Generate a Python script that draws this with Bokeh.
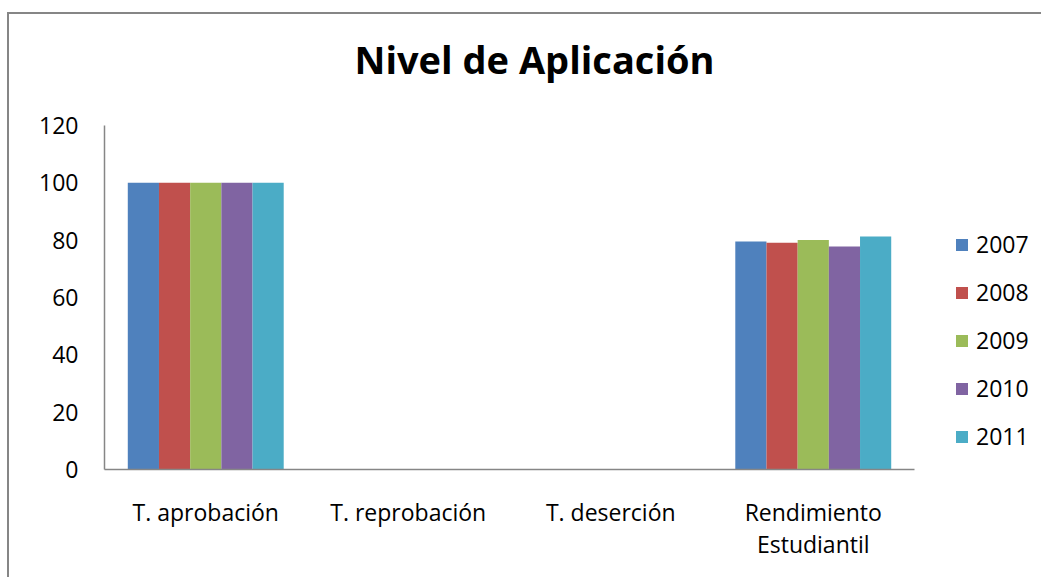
from bokeh.plotting import figure
from bokeh.models import (Range1d, FixedTicker, Legend, LegendItem,
                          ColumnDataSource, LinearAxis, Title)
from bokeh.embed import file_html
from bokeh.resources import INLINE

categories = ["T. aprobación", "T. reprobación", "T. deserción", "Rendimiento Estudiantil"]
label_line1 = ["T. aprobación", "T. reprobación", "T. deserción", "Rendimiento"]
label_line2 = ["", "", "", "Estudiantil"]
years = ["2007", "2008", "2009", "2010", "2011"]
v2007 = [100, 0, 0, 79.5]
v2008 = [100, 0, 0, 79.1]
v2009 = [100, 0, 0, 80.1]
v2010 = [100, 0, 0, 77.8]
v2011 = [100, 0, 0, 81.3]
y_ticks = [0, 20, 40, 60, 80, 100, 120]
colors = ["#4F81BD", "#C0504D", "#9BBB59", "#8064A2", "#4BACC6"]

FONT = "Open Sans"
GREY = "#868686"
FS = "23px"

# category centres on a numeric scale (one unit per category)
xc = [i + 0.5 for i in range(len(categories))]

p = figure(x_range=Range1d(0, 4.637), y_range=Range1d(0, 120),
           width=1034, height=565, output_backend="svg", toolbar_location=None,
           x_axis_location=None,
           min_border_left=95, min_border_right=0, min_border_top=111, min_border_bottom=110)
p.styles = {"border-left": f"2px solid {GREY}", "border-top": f"2px solid {GREY}",
            "margin-top": "12px", "margin-left": "7px"}

p.title.text = "Nivel de Aplicación"
p.title.align = "left"
p.title.text_font = FONT
p.title.text_font_size = "38px"
p.title.text_font_style = "bold"
p.title.text_color = "black"
p.title.standoff = 12
p.title.offset = 250

# blank spacer between the title and the plot area
p.add_layout(Title(text=" ", text_font_size="2px", standoff=31), "above")

p.outline_line_color = None
p.xgrid.grid_line_color = None
p.ygrid.grid_line_color = None
p.background_fill_color = "white"
p.border_fill_color = "white"

bw = 0.154
offsets = [-2 * bw, -bw, 0, bw, 2 * bw]
series = [v2007, v2008, v2009, v2010, v2011]
items = []
for yr, c, vals, off in zip(years, colors, series, offsets):
    src = ColumnDataSource(dict(x=[x + off for x in xc], top=vals))
    r = p.vbar(x="x", top="top", width=bw, source=src, fill_color=c, line_color=None)
    items.append(LegendItem(label=yr, renderers=[r]))

# y axis
p.yaxis.ticker = FixedTicker(ticks=y_ticks)
yax = p.yaxis[0]
yax.axis_line_color = GREY
yax.axis_line_width = 1.5
yax.major_tick_line_color = None
yax.minor_tick_line_color = None
yax.major_tick_out = 0
yax.major_tick_in = 0
yax.major_label_text_font = FONT
yax.major_label_text_font_size = FS
yax.major_label_text_color = "black"
yax.major_label_standoff = 26

def cat_axis(labels, standoff, line):
    ax = LinearAxis(ticker=FixedTicker(ticks=xc), bounds=(0, len(categories)),
                    major_label_overrides={x: t for x, t in zip(xc, labels)},
                    axis_line_color=GREY if line else None, axis_line_width=1.5,
                    major_tick_line_color=None, minor_tick_line_color=None,
                    major_tick_out=0, major_tick_in=0,
                    major_label_standoff=standoff, major_label_text_font=FONT,
                    major_label_text_font_size=FS, major_label_text_color="black")
    p.add_layout(ax, "below")

cat_axis(label_line1, 26, True)
cat_axis(label_line2, -3, False)

legend = Legend(items=items, location=(850, 17), padding=0, margin=0,
                border_line_color=None, background_fill_alpha=0,
                glyph_width=15, glyph_height=15, label_standoff=7,
                label_height=26, spacing=16, label_text_color="black",
                label_text_font=FONT, label_text_font_size=FS)
p.add_layout(legend)

open("out.html", "w").write(file_html(p, INLINE))
